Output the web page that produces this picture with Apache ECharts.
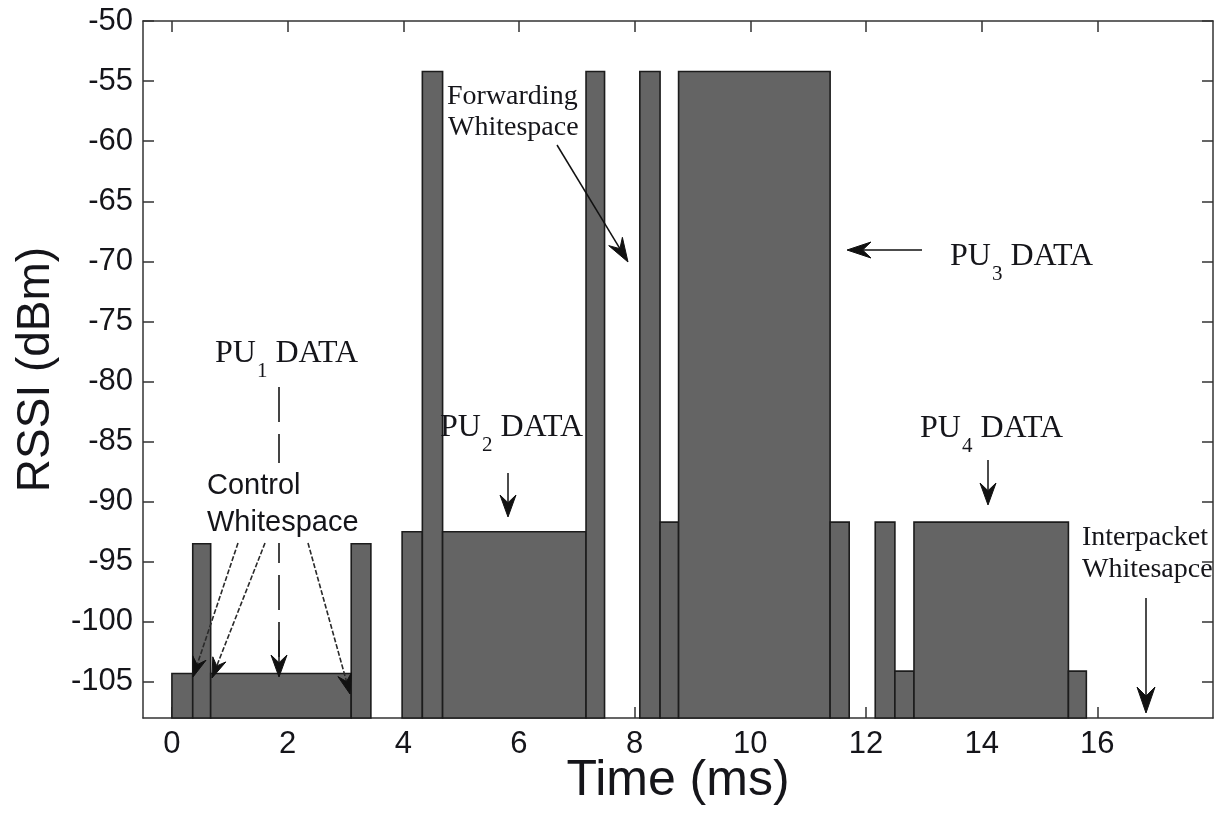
<!DOCTYPE html>
<html><head><meta charset="utf-8">
<script src="https://cdn.jsdelivr.net/npm/echarts@6/dist/echarts.min.js"></script>
<style>html,body{margin:0;padding:0;background:#fff}#c{width:1224px;height:814px}</style>
</head><body><div id="c"></div>
<script>
// ---- data (time in ms, RSSI in dBm) ----
const segStart = [0.00, 0.36, 0.67, 3.10, 3.98, 4.33, 4.68, 7.16, 8.09, 8.44, 8.76, 11.38, 12.16, 12.50, 12.83, 15.50];
const segEnd   = [0.36, 0.67, 3.10, 3.44, 4.33, 4.68, 7.16, 7.48, 8.44, 8.76, 11.38, 11.71, 12.50, 12.83, 15.50, 15.81];
const rssi     = [-104.3, -93.5, -104.3, -93.5, -92.5, -54.2, -92.5, -54.2, -54.2, -91.7, -54.2, -91.7, -91.7, -104.1, -91.7, -104.1];
const xTicks = [0, 2, 4, 6, 8, 10, 12, 14, 16];
const yTicks = [-105, -100, -95, -90, -85, -80, -75, -70, -65, -60, -55, -50];
const X_MIN = -0.5, X_MAX = 18, Y_MIN = -108, Y_MAX = -50;

const SANS = "'Liberation Sans', Arial, Helvetica, sans-serif";
const SERIF = "'Liberation Serif', 'Times New Roman', serif";
const INK = '#15151a';

const data = segStart.map((s, i) => [s, segEnd[i], rssi[i]]);

const mctx = document.createElement('canvas').getContext('2d');
function tw(t, font) { mctx.font = font; return mctx.measureText(t).width; }

function arrow(x1, y1, x2, y2, opt) {
  opt = opt || {};
  const L = opt.len || 20, W = opt.w || 7, col = opt.color || '#111';
  const dx = x2 - x1, dy = y2 - y1, d = Math.hypot(dx, dy);
  const ux = dx / d, uy = dy / d, nx = -uy, ny = ux;
  const bx = x2 - L * ux, by = y2 - L * uy;
  const mx = x2 - 0.65 * L * ux, my = y2 - 0.65 * L * uy;
  return [
    { type: 'line', z: 100, shape: { x1, y1, x2: mx, y2: my },
      style: { stroke: opt.lineColor || col, lineWidth: opt.lw || 1.5, lineDash: opt.dash || null } },
    { type: 'polygon', z: 101, shape: { points: [[x2, y2], [bx + W * nx, by + W * ny], [mx, my], [bx - W * nx, by - W * ny]] },
      style: { fill: col, stroke: col, lineWidth: 1 } }
  ];
}
function txt(t, x, y, font, align, extra) {
  return Object.assign({ type: 'text', z: 102, x, y,
    style: { text: t, font, fill: INK, align: align || 'left', verticalAlign: 'middle' } }, extra || {});
}
function puLabel(x, y, sub) {
  const f = '32px ' + SERIF, fs = '21px ' + SERIF;
  const w1 = tw('PU', f), w2 = tw(sub, fs);
  return [txt('PU', x, y, f), txt(sub, x + w1 + 1, y + 17, fs), txt('DATA', x + w1 + w2 + 9, y, f)];
}

const graphics = [].concat(
  // Control whitespace label with white background
  [{ type: 'rect', z: 99, shape: { x: 190, y: 463, width: 182, height: 80 }, style: { fill: '#fff' } }],
  [txt('Control', 207, 486, '29px ' + SANS), txt('Whitespace', 207, 523, '29px ' + SANS)],
  arrow(238, 543, 193, 677, { lw: 1.6, lineColor: '#2a2a2a', dash: [5, 2] }),
  arrow(265, 543, 212, 678, { lw: 1.6, lineColor: '#2a2a2a', dash: [5, 2] }),
  arrow(308, 543, 350, 694, { lw: 1.6, lineColor: '#2a2a2a', dash: [5, 2] }),
  // PU1 dashed pointer
  [{ type: 'line', z: 98, shape: { x1: 279, y1: 387, x2: 279, y2: 668 }, style: { stroke: '#444', lineWidth: 2, lineDash: [35, 12] } }],
  arrow(279, 640, 279, 677, { len: 22, w: 8 }),
  puLabel(215, 354, '1'),
  puLabel(440, 428, '2'),
  arrow(508, 473, 508, 517, { len: 22, w: 8 }),
  puLabel(950, 257, '3'),
  arrow(922, 250, 847, 250, { len: 24, w: 8 }),
  puLabel(920, 429, '4'),
  arrow(988, 460, 988, 505, { len: 22, w: 8 }),
  [txt('Forwarding', 447, 97, '28px ' + SERIF), txt('Whitespace', 448, 128, '28px ' + SERIF)],
  arrow(557, 145, 628, 262, { len: 24, w: 8 }),
  [txt('Interpacket', 1082, 538, '28px ' + SERIF), txt('Whitesapce', 1082, 570, '28px ' + SERIF)],
  arrow(1146, 598, 1146, 713, { len: 26, w: 9 })
);

const axisLine = { show: true, onZero: false, lineStyle: { color: '#333', width: 1.5 } };
const tickStyle = { color: '#333', width: 1.5 };

const chart = echarts.init(document.getElementById('c'), null, { renderer: 'canvas' });
chart.setOption({
  animation: false,
  backgroundColor: '#fff',
  grid: { left: 143, right: 11, top: 21, bottom: 96, containLabel: false, outerBoundsMode: 'none' },
  xAxis: [{
    type: 'value', min: X_MIN, max: X_MAX, position: 'bottom',
    name: 'Time (ms)', nameLocation: 'middle', nameGap: 38, nameMoveOverlap: false,
    nameTextStyle: { fontFamily: SANS, fontSize: 50, color: INK, verticalAlign: 'top' },
    axisLine, splitLine: { show: false },
    axisTick: { show: true, inside: true, length: 11, lineStyle: tickStyle, customValues: xTicks },
    axisLabel: { show: true, customValues: xTicks, margin: 11, fontFamily: SANS, fontSize: 31, color: INK }
  }, {
    type: 'value', min: X_MIN, max: X_MAX, position: 'top',
    axisLine, splitLine: { show: false },
    axisTick: { show: true, inside: true, length: 11, lineStyle: tickStyle, customValues: xTicks },
    axisLabel: { show: false }
  }],
  yAxis: [{
    type: 'value', min: Y_MIN, max: Y_MAX, position: 'left',
    name: 'RSSI (dBm)', nameLocation: 'middle', nameGap: 84, nameRotate: 90, nameMoveOverlap: false,
    nameTextStyle: { fontFamily: SANS, fontSize: 46, color: INK },
    axisLine, splitLine: { show: false },
    axisTick: { show: true, inside: true, length: 11, lineStyle: tickStyle, customValues: yTicks },
    axisLabel: { show: true, customValues: yTicks, margin: 10, fontFamily: SANS, fontSize: 31, color: INK }
  }, {
    type: 'value', min: Y_MIN, max: Y_MAX, position: 'right',
    axisLine, splitLine: { show: false },
    axisTick: { show: true, inside: true, length: 11, lineStyle: tickStyle, customValues: yTicks },
    axisLabel: { show: false }
  }],
  series: [{
    type: 'custom',
    xAxisIndex: 0, yAxisIndex: 0,
    encode: { x: [0, 1], y: 2 },
    data: data,
    z: 2,
    renderItem: function (params, api) {
      const p0 = api.coord([api.value(0), api.value(2)]);
      const p1 = api.coord([api.value(1), Y_MIN]);
      return {
        type: 'rect',
        shape: { x: p0[0], y: p0[1], width: p1[0] - p0[0], height: p1[1] - p0[1] },
        style: { fill: '#646464', stroke: '#1c1c1c', lineWidth: 1.6 }
      };
    }
  }],
  graphic: { elements: graphics }
});
</script>
</body></html>
